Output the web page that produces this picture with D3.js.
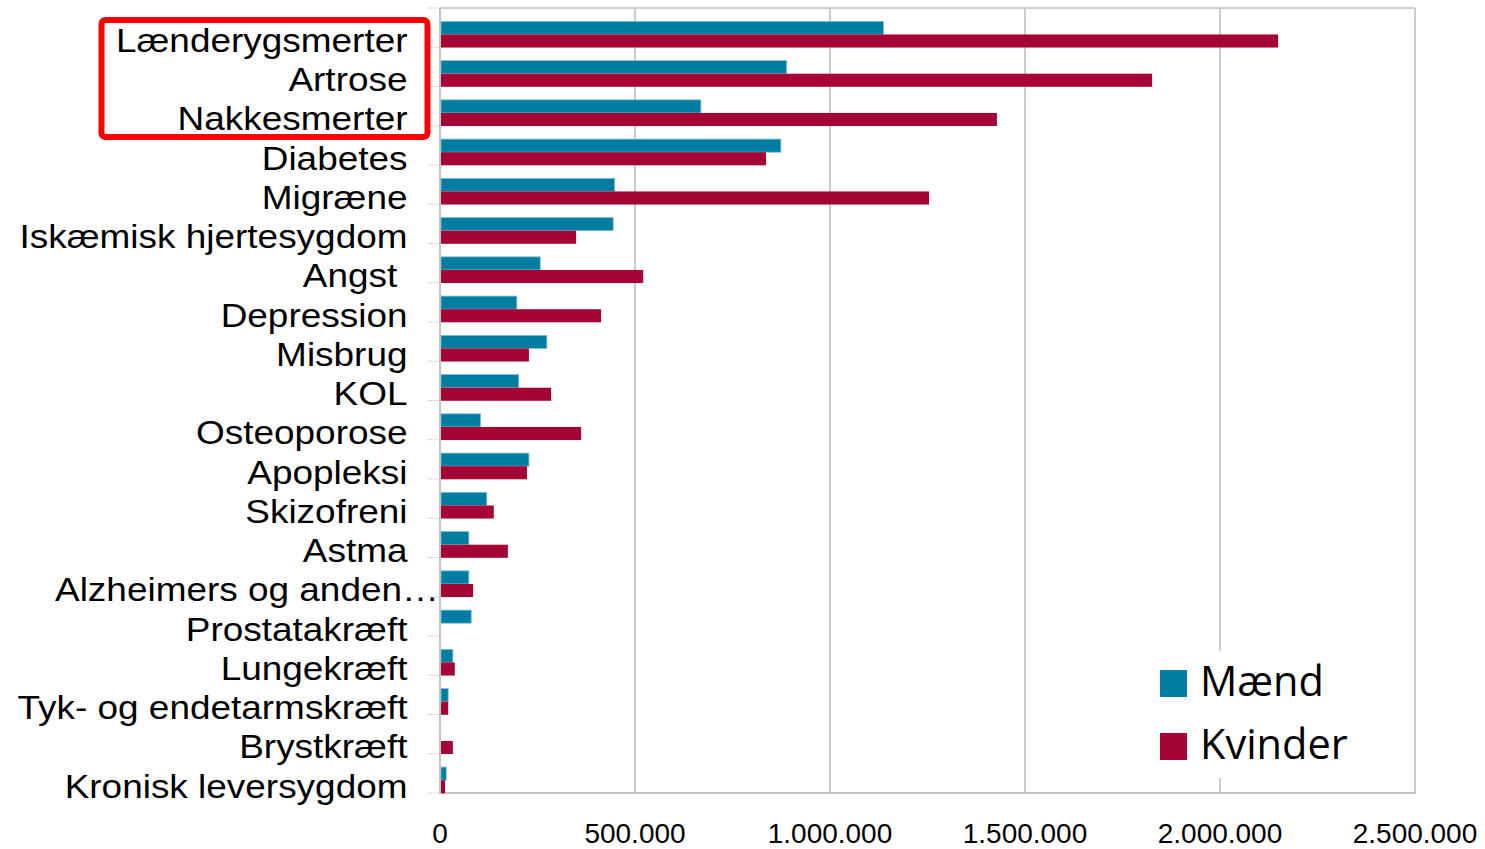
<!DOCTYPE html>
<html><head><meta charset="utf-8">
<script src="https://cdn.jsdelivr.net/npm/d3@7"></script>
<style>
html,body{margin:0;padding:0;background:#fff;}
svg{display:block;}
</style></head>
<body>
<svg id="chart" width="1485" height="849"></svg>
<script>
const categories = ["Lænderygsmerter","Artrose","Nakkesmerter","Diabetes","Migræne","Iskæmisk hjertesygdom","Angst\u00A0","Depression","Misbrug","KOL","Osteoporose","Apopleksi","Skizofreni","Astma","Alzheimers og anden…","Prostatakræft","Lungekræft","Tyk- og endetarmskræft","Brystkræft","Kronisk leversygdom"];
const seriesNames = ["Mænd","Kvinder"];
const maend   = [1137000, 889000, 669000, 874000, 448000, 444000, 257000, 197000, 274000, 202000, 104000, 228000, 120000, 74000, 74000, 80000, 33000, 21000, 0, 16000];
const kvinder = [2149000, 1826000, 1428000, 836000, 1254000, 349000, 521000, 413000, 228000, 285000, 362000, 223000, 138000, 174000, 85000, 0, 38000, 21000, 33000, 13000];
const xTicks = [0, 500000, 1000000, 1500000, 2000000, 2500000];
const colors = ["#007DA0", "#A50534"];

(function(){
const svg = d3.select("#chart");
const pL = 440, pR = 1415, pT = 8, pB = 793;

const x = d3.scaleLinear().domain([0, 2500000]).range([pL, pR]);
const y = d3.scaleBand().domain(categories).range([pT, pB]).paddingInner(0).paddingOuter(0);
const bw = y.bandwidth();
const ySub = d3.scaleBand().domain(seriesNames).range([bw * 0.34, bw + 0.3]).padding(0);

const fmt = v => d3.format(",")(v).replace(/,/g, ".");

// gridlines
svg.append("g").selectAll("line").data(xTicks.slice(1)).join("line")
  .attr("x1", d => x(d)).attr("x2", d => x(d))
  .attr("y1", pT).attr("y2", pB)
  .attr("stroke", "#cccccc").attr("stroke-width", 2);
// top border
svg.append("line").attr("x1", pL).attr("x2", pR).attr("y1", pT).attr("y2", pT)
  .attr("stroke", "#cccccc").attr("stroke-width", 2);
// left axis line & bottom axis
svg.append("line").attr("x1", pL).attr("x2", pL).attr("y1", pT).attr("y2", pB)
  .attr("stroke", "#c4c4c4").attr("stroke-width", 2);
svg.append("line").attr("x1", pL - 1).attr("x2", pR + 1).attr("y1", pB).attr("y2", pB)
  .attr("stroke", "#c4c4c4").attr("stroke-width", 2);

// category tick marks (dotted)
const tickYs = categories.map(c => y(c)).concat([pB]);
svg.append("g").selectAll("line").data(tickYs).join("line")
  .attr("x1", pL - 12).attr("x2", pL - 1)
  .attr("y1", d => d).attr("y2", d => d)
  .attr("stroke", "#bdbdbd").attr("stroke-width", 1).attr("stroke-dasharray", "1.5,1.5");

// bars
const data = categories.map((c, i) => ({c, vals: [maend[i], kvinder[i]]}));
const groups = svg.append("g").selectAll("g").data(data).join("g")
  .attr("transform", d => `translate(0,${y(d.c)})`);
groups.selectAll("rect").data(d => d.vals.map((v, j) => ({v, s: seriesNames[j], j})))
  .join("rect")
  .attr("x", x(0) + 1)
  .attr("y", d => ySub(d.s))
  .attr("width", d => Math.max(0, x(d.v) - x(0) - 1))
  .attr("height", ySub.bandwidth())
  .attr("fill", d => colors[d.j])
  .attr("stroke", d => d.j === 0 && d.v > 0 ? "#7fbfd2" : "none")
  .attr("stroke-width", 0.8);

// category labels
svg.append("g").selectAll("text").data(categories).join("text")
  .attr("transform", (d, i) => {
    const ax = i === 14 ? 439 : 407.5;
    return `translate(${ax},${y(d) + bw + 4.5}) scale(1.12,1)`;
  })
  .attr("text-anchor", "end")
  .attr("font-family", "'Liberation Sans', Arial, sans-serif")
  .attr("font-size", 33)
  .attr("fill", "#000")
  .text(d => d);

// x tick labels
svg.append("g").selectAll("text").data(xTicks).join("text")
  .attr("x", d => x(d)).attr("y", 843)
  .attr("text-anchor", "middle")
  .attr("font-family", "'Liberation Sans', Arial, sans-serif")
  .attr("font-size", 28)
  .attr("fill", "#000")
  .text(d => fmt(d));

// legend
const lg = svg.append("g");
lg.append("rect").attr("x", 1150).attr("y", 651).attr("width", 210).attr("height", 127).attr("fill", "#fff");
const legY = [670, 733];
seriesNames.forEach((s, i) => {
  lg.append("rect").attr("x", 1160).attr("y", legY[i]).attr("width", 27).attr("height", 27).attr("fill", colors[i]);
  lg.append("text").attr("x", 1200).attr("y", legY[i] + 26)
    .attr("font-family", "'Open Sans', sans-serif").attr("font-size", 41.5).attr("fill", "#000")
    .text(s);
});

// red highlight box
svg.append("rect").attr("x", 101.5).attr("y", 20).attr("width", 326).attr("height", 117)
  .attr("rx", 4).attr("fill", "none").attr("stroke", "#ff0000").attr("stroke-width", 6);
})();
</script>
</body></html>
